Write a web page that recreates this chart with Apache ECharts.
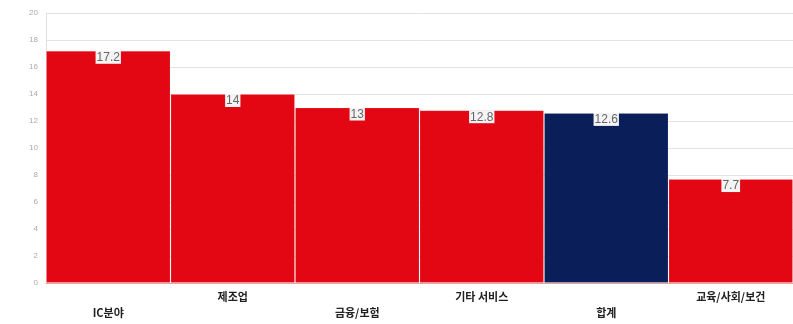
<!DOCTYPE html>
<html><head><meta charset="utf-8">
<script src="https://cdn.jsdelivr.net/npm/echarts@6/dist/echarts.min.js"></script>
<style>html,body{margin:0;padding:0;background:#fff}#c{width:793px;height:324px}</style>
</head><body><div id="c"></div>
<script>
const categories = ['IC분야','제조업','금융/보험','기타 서비스','합계','교육/사회/보건'];
const values = [17.2, 14, 13, 12.8, 12.6, 7.7];
const barColors = ['#E30613','#E30613','#E30613','#E30613','#0A1F5A','#E30613'];
const yTicks = {min:0, max:20, interval:2};

const chart = echarts.init(document.getElementById('c'));
chart.setOption({
  animation:false,
  grid:{left:46, right:0, top:13, bottom:41, containLabel:false, outerBoundsMode:'none'},
  xAxis:{type:'category', data:categories,
    axisLine:{lineStyle:{color:'#e8a0a0'}}, axisTick:{show:false},
    axisLabel:{interval:0, margin:6, lineHeight:16, fontSize:11, fontWeight:'bold', color:'#222',
      fontFamily:'Noto Sans CJK KR', verticalAlign:'top',
      formatter:(v,i)=> i%2===0 ? '\n'+v : v}},
  yAxis:{type:'value', min:yTicks.min, max:yTicks.max, interval:yTicks.interval,
    axisLine:{show:true, lineStyle:{color:'#e0e0e0'}},
    axisLabel:{fontSize:8, color:'#aaa', margin:8, fontFamily:'Liberation Sans'},
    splitLine:{lineStyle:{color:'#e2e2e2'}}},
  series:[{type:'bar', barCategoryGap:0,
    data: values.map((v,i)=>({value:v, itemStyle:{color:barColors[i]}})),
    itemStyle:{borderColor:'rgba(255,255,255,0.12)', borderWidth:1},
    label:{show:true, position:'insideTop', distance:0, color:'#666', fontSize:12,
      fontFamily:'Liberation Sans', backgroundColor:'#f4f4f4', padding:[1,1,0,1]}
  }]
});
</script></body></html>
